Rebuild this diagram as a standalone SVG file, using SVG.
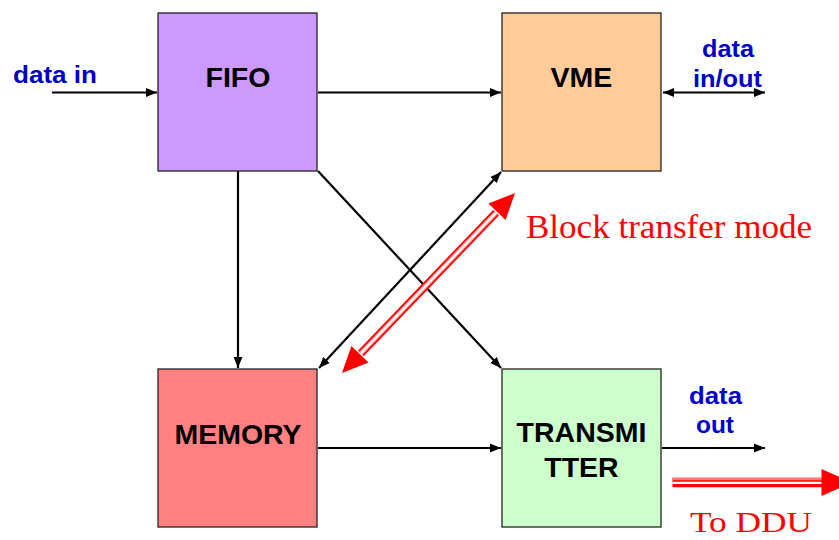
<svg xmlns="http://www.w3.org/2000/svg" width="839" height="540" viewBox="0 0 839 540">
<style>
.box{stroke:#222;stroke-width:1.3}
.bt{font-family:"Liberation Sans",Arial,sans-serif;font-weight:bold;font-size:28.5px;fill:#000;text-anchor:middle}
.lb{font-family:"Liberation Sans",Arial,sans-serif;font-weight:bold;font-size:24px;fill:#0000CC}
.rt{font-family:"Liberation Serif","Times New Roman",serif;fill:#FF0000}
.ln{stroke:#000;stroke-width:2.2;fill:none}
</style>
<defs>
<marker id="ah" viewBox="0 0 10 10" refX="10" refY="5" markerWidth="5" markerHeight="5" orient="auto-start-reverse" markerUnits="strokeWidth">
<path d="M0,1 L10,5 L0,9 Z" fill="#000"/>
</marker>
</defs>
<rect width="839" height="540" fill="#fff"/>
<g id="connectors">
<line class="ln" x1="52" y1="92.5" x2="157" y2="92.5" marker-end="url(#ah)"/>
<line class="ln" x1="318" y1="92.5" x2="501" y2="92.5" marker-end="url(#ah)"/>
<line class="ln" x1="663" y1="92.5" x2="765" y2="92.5" marker-start="url(#ah)" marker-end="url(#ah)"/>
<line class="ln" x1="238" y1="171" x2="238" y2="368" marker-end="url(#ah)"/>
<line class="ln" x1="318" y1="171" x2="501" y2="368" marker-end="url(#ah)"/>
<line class="ln" x1="319" y1="368" x2="501" y2="172" marker-start="url(#ah)" marker-end="url(#ah)"/>
<line class="ln" x1="318" y1="448" x2="501" y2="448" marker-end="url(#ah)"/>
<line class="ln" x1="662" y1="448" x2="765" y2="448" marker-end="url(#ah)"/>
<g id="block-transfer">
<line x1="361" y1="353.3" x2="496" y2="212.7" stroke="#FF0000" stroke-width="8"/>
<line x1="361" y1="353.3" x2="496" y2="212.7" stroke="#FF9999" stroke-width="4.5"/>
<line x1="361" y1="353.3" x2="496" y2="212.7" stroke="#fff" stroke-width="2"/>
<polygon points="515,193 505.6,220 488.4,203.4" fill="#FF0000"/>
<polygon points="342,373 368.6,362.6 351.4,346" fill="#FF0000"/>
</g>
<g id="to-ddu">
<line x1="672.5" y1="482.5" x2="824" y2="482.5" stroke="#FF0000" stroke-width="9.5"/>
<line x1="672.5" y1="479" x2="824" y2="479" stroke="#FF7777" stroke-width="2.5"/>
<line x1="672.5" y1="482.8" x2="824" y2="482.8" stroke="#fff" stroke-width="2.2"/>
<polygon points="821.5,469 852,482.5 821.5,496" fill="#FF0000"/>
</g>
</g>
<g id="fifo">
<rect class="box" x="158" y="13" width="159" height="158" fill="#CC99FF"/>
<text class="bt" x="238" y="87">FIFO</text>
</g>
<g id="vme">
<rect class="box" x="502" y="13" width="159" height="158" fill="#FFCC99"/>
<text class="bt" x="581.5" y="87">VME</text>
</g>
<g id="memory">
<rect class="box" x="158" y="369" width="159" height="158" fill="#FF8080"/>
<text class="bt" x="238" y="444">MEMORY</text>
</g>
<g id="transmitter">
<rect class="box" x="502" y="369" width="159" height="158" fill="#CCFFCC"/>
<text class="bt" x="581.5" y="442">TRANSMI</text>
<text class="bt" x="581.5" y="477">TTER</text>
</g>
<g id="labels">
<text class="lb" x="13" y="83" textLength="84" lengthAdjust="spacingAndGlyphs">data in</text>
<text class="lb" x="702" y="57" textLength="52" lengthAdjust="spacingAndGlyphs">data</text>
<text class="lb" x="693" y="87" textLength="69" lengthAdjust="spacingAndGlyphs">in/out</text>
<text class="lb" x="689" y="404" textLength="53" lengthAdjust="spacingAndGlyphs">data</text>
<text class="lb" x="696" y="433" textLength="38" lengthAdjust="spacingAndGlyphs">out</text>
<text class="rt" x="526" y="238" font-size="34" textLength="286" lengthAdjust="spacingAndGlyphs">Block transfer mode</text>
<text class="rt" x="690" y="532" font-size="30" textLength="122" lengthAdjust="spacingAndGlyphs">To DDU</text>
</g>
</svg>
